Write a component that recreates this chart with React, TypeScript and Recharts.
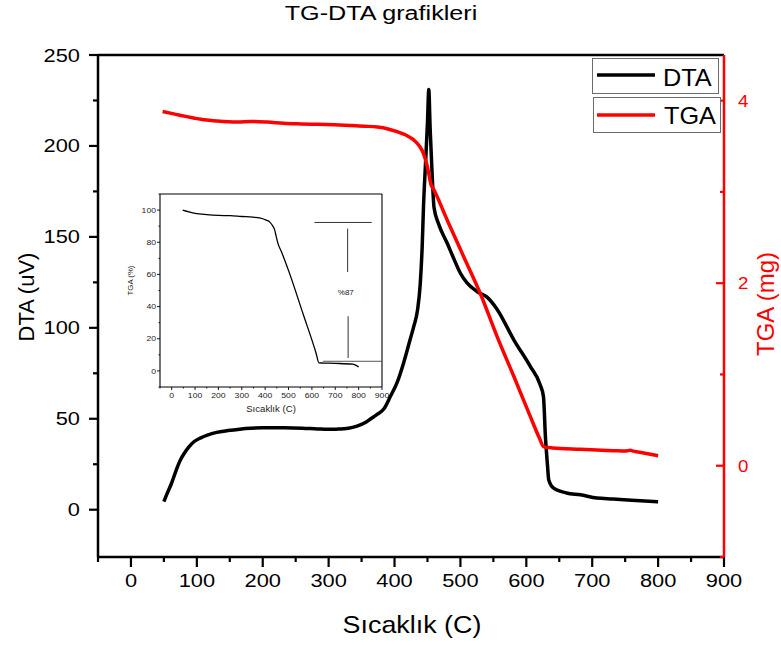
import { LineChart, Line, XAxis, YAxis, ReferenceLine, ReferenceDot, Label } from 'recharts'

// DTA curve (uV) against temperature (C)
const dtaTemps = [50, 55, 61, 66, 71, 76, 81, 88, 96, 106, 116, 130, 147, 165, 182, 200, 232, 260, 283, 300, 313, 330, 343, 355, 364, 374, 384, 394, 404, 414, 424, 429, 435, 439, 442, 444, 447, 450, 452, 454, 457, 460, 467, 480, 490, 500, 510, 525, 540, 556, 581, 606, 621, 626, 629, 632, 634, 641, 661, 682, 707, 732, 760, 800]
const dtaValues = [4.5, 9, 14, 19, 24, 28, 31, 34.5, 37.5, 39.5, 41, 42.5, 43.5, 44.3, 44.8, 45, 45, 44.8, 44.4, 44.2, 44.3, 44.8, 46, 47.8, 50, 52.5, 55.5, 62.5, 70, 81, 94, 100.5, 110, 124, 145, 167, 190, 213, 231, 210, 185, 166, 157, 146.5, 138, 130, 124.7, 120, 117, 110, 93.4, 78.8, 68.7, 62.3, 40, 25, 16.5, 12, 9.2, 8.2, 6.4, 5.9, 5.2, 4.3]

// TGA curve (mg)
const tgaTemps = [48, 65, 81, 95, 106, 131, 162, 182, 207, 232, 258, 283, 308, 333, 355, 374, 390, 404, 418, 429, 438, 444, 449, 452, 455, 460, 480, 505, 530, 556, 581, 606, 620, 626, 640, 682, 732, 750, 758, 762, 770, 800]
const tgaValues = [3.88, 3.855, 3.83, 3.81, 3.795, 3.776, 3.765, 3.772, 3.765, 3.752, 3.745, 3.74, 3.735, 3.728, 3.72, 3.71, 3.69, 3.66, 3.62, 3.57, 3.5, 3.42, 3.3, 3.2, 3.09, 3.02, 2.69, 2.29, 1.89, 1.41, 0.98, 0.54, 0.3, 0.21, 0.195, 0.18, 0.165, 0.16, 0.17, 0.16, 0.15, 0.11]

// inset: TGA in percent
const insetTemps = [47, 100, 150, 200, 250, 300, 347, 380, 404, 420, 433, 440, 447, 454, 470, 504, 561, 618, 630, 650, 700, 775, 800]
const insetPercent = [100, 98, 97.2, 96.7, 96.5, 96, 95.6, 95, 93.8, 92.5, 90, 88, 83.8, 79.6, 74, 60.8, 36, 11, 5, 4.9, 4.7, 4.2, 2.5]

const mainXTicks = [-50, 0, 50, 100, 150, 200, 250, 300, 350, 400, 450, 500, 550, 600, 650, 700, 750, 800, 850, 900]
const dtaTicks = [0, 25, 50, 75, 100, 125, 150, 175, 200, 225, 250]
const tgaTicks = [-1, 0, 1, 2, 3, 4]
const insetXTicks = mainXTicks
const insetYTicks = [-10, 0, 10, 20, 30, 40, 50, 60, 70, 80, 90, 100, 110]

// mass loss bracket in the inset (data units)
const lossTop = 92.3
const lossBottom = 6
const lossLabel = '%87'

const dtaData = dtaTemps.map((t, i) => ({ t, dta: dtaValues[i] }))
const tgaData = tgaTemps.map((t, i) => ({ t, tga: tgaValues[i] }))
const insetData = insetTemps.map((t, i) => ({ t, pct: insetPercent[i] }))

const FONT = '"Liberation Sans", Arial, sans-serif'
const RED = '#ff0000'

// eslint-disable-next-line @typescript-eslint/no-explicit-any
function LeftTick(props: any) {
  const { x, y, payload } = props
  const major = payload.value % 50 === 0
  return (
    <g>
      <line x1={x + (major ? 9 : 13)} x2={x + 18} y1={y} y2={y} stroke="#000" strokeWidth={2.2} />
      {major && (
        <text transform={`translate(${x},${y}) scale(1.18,1)`} textAnchor="end" dy={6.5} fontSize={18.5} fontFamily={FONT} fill="#000">
          {payload.value}
        </text>
      )}
    </g>
  )
}

// eslint-disable-next-line @typescript-eslint/no-explicit-any
function BottomTick(props: any) {
  const { x, y, payload } = props
  const major = payload.value % 100 === 0
  return (
    <g>
      <line x1={x} x2={x} y1={y - 18} y2={y - (major ? 8 : 13)} stroke="#000" strokeWidth={2.2} />
      {major && (
        <text transform={`translate(${x},${y}) scale(1.18,1)`} textAnchor="middle" dy={12} fontSize={18.5} fontFamily={FONT} fill="#000">
          {payload.value}
        </text>
      )}
    </g>
  )
}

// eslint-disable-next-line @typescript-eslint/no-explicit-any
function RightTick(props: any) {
  const { x, y, payload } = props
  const major = payload.value % 2 === 0
  return (
    <g>
      <line x1={x - 14 - (major ? 8 : 4)} x2={x - 14} y1={y} y2={y} stroke={RED} strokeWidth={2.2} />
      {major && (
        <text transform={`translate(${x},${y}) scale(1.1,1)`} textAnchor="start" dy={6} fontSize={17} fontFamily={FONT} fill={RED}>
          {payload.value}
        </text>
      )}
    </g>
  )
}

// eslint-disable-next-line @typescript-eslint/no-explicit-any
function InsetLeftTick(props: any) {
  const { x, y, payload } = props
  const major = payload.value % 20 === 0 && payload.value >= 0 && payload.value <= 100
  return (
    <g>
      <line x1={x + (major ? 1 : 2.5)} x2={x + 4} y1={y} y2={y} stroke="#000" strokeWidth={0.9} />
      {major && (
        <text transform={`translate(${x},${y}) scale(1.2,1)`} textAnchor="end" dy={2.6} fontSize={7.2} fontFamily={FONT} fill="#222">
          {payload.value}
        </text>
      )}
    </g>
  )
}

// eslint-disable-next-line @typescript-eslint/no-explicit-any
function InsetBottomTick(props: any) {
  const { x, y, payload } = props
  const major = payload.value % 100 === 0
  return (
    <g>
      <line x1={x} x2={x} y1={y - 5} y2={y - (major ? 2 : 3.5)} stroke="#000" strokeWidth={0.9} />
      {major && (
        <text transform={`translate(${x},${y}) scale(1.2,1)`} textAnchor="middle" dy={5.5} fontSize={7.2} fontFamily={FONT} fill="#222">
          {payload.value}
        </text>
      )}
    </g>
  )
}

function InsetChart() {
  return (
    <LineChart width={290} height={245} margin={{ top: 9, right: 18, bottom: 0, left: 0 }}>
      <XAxis
        dataKey="t"
        type="number"
        domain={[-50, 900]}
        ticks={insetXTicks}
        interval={0}
        height={43}
        tickSize={3}
        tickMargin={2}
        tickLine={false}
        tick={<InsetBottomTick />}
        axisLine={{ stroke: '#000', strokeWidth: 1.1 }}
        allowDataOverflow
      >
        <Label
          content={({ viewBox }: any) => (
            <text
              transform={`translate(${viewBox.x + viewBox.width / 2},${viewBox.y + 25}) scale(1.12,1)`}
              textAnchor="middle"
              fontSize={8.6}
              fontFamily={FONT}
              fill="#222"
            >
              Sıcaklık (C)
            </text>
          )}
        />
      </XAxis>
      <YAxis
        domain={[-10, 110]}
        ticks={insetYTicks}
        interval={0}
        width={50}
        tickSize={3}
        tickMargin={1}
        tickLine={false}
        tick={<InsetLeftTick />}
        axisLine={{ stroke: '#000', strokeWidth: 1.1 }}
        allowDataOverflow
      >
        <Label
          content={({ viewBox }: any) => (
            <text
              transform={`translate(${viewBox.x + 23},${viewBox.y + viewBox.height / 2 - 10}) rotate(-90)`}
              textAnchor="middle"
              fontSize={7.8}
              fontFamily={FONT}
              fill="#222"
            >
              TGA (%)
            </text>
          )}
        />
      </YAxis>
      <ReferenceLine y={110} stroke="#000" strokeWidth={1.1} />
      <ReferenceLine x={900} stroke="#000" strokeWidth={1.1} />
      <ReferenceLine segment={[{ x: 611, y: lossTop }, { x: 856, y: lossTop }]} stroke="#333" strokeWidth={1} />
      <ReferenceLine segment={[{ x: 753, y: 88.5 }, { x: 753, y: 61.5 }]} stroke="#333" strokeWidth={1} />
      <ReferenceLine segment={[{ x: 755, y: 34 }, { x: 755, y: 8 }]} stroke="#333" strokeWidth={1} />
      <ReferenceLine segment={[{ x: 647, y: lossBottom }, { x: 900, y: lossBottom }]} stroke="#555" strokeWidth={1} />
      <ReferenceDot
        x={745}
        y={49}
        r={0}
        label={{ value: lossLabel, position: 'center', fontSize: 8, fontFamily: FONT, fill: '#222' }}
      />
      <Line
        data={insetData}
        dataKey="pct"
        type="monotone"
        stroke="#000"
        strokeWidth={1.3}
        dot={false}
        activeDot={false}
        isAnimationActive={false}
      />
    </LineChart>
  )
}

function MainChart() {
  return (
    <LineChart width={781} height={645} margin={{ top: 55, right: 0, bottom: 0, left: 0 }}>
      <XAxis
        dataKey="t"
        type="number"
        domain={[-50, 900]}
        ticks={mainXTicks}
        interval={0}
        height={88}
        tickSize={10}
        tickMargin={8}
        tickLine={false}
        tick={<BottomTick />}
        axisLine={{ stroke: '#000', strokeWidth: 2.5 }}
        allowDataOverflow
      >
        <Label
          content={({ viewBox }: any) => (
            <text
              transform={`translate(${viewBox.x + viewBox.width / 2 + 1},${viewBox.y + 76}) scale(1.12,1)`}
              textAnchor="middle"
              fontSize={24}
              fontFamily={FONT}
              fill="#000"
            >
              Sıcaklık (C)
            </text>
          )}
        />
      </XAxis>
      <YAxis
        yAxisId="left"
        domain={[-26, 250]}
        ticks={dtaTicks}
        interval={0}
        width={98}
        tickSize={9}
        tickMargin={9}
        tickLine={false}
        tick={<LeftTick />}
        axisLine={{ stroke: '#000', strokeWidth: 2.5 }}
        allowDataOverflow
      >
        <Label
          content={({ viewBox }: any) => (
            <text
              transform={`translate(${viewBox.x + 34},${viewBox.y + viewBox.height / 2 - 9}) rotate(-90)`}
              textAnchor="middle"
              fontSize={22}
              fontFamily={FONT}
              fill="#000"
            >
              DTA (uV)
            </text>
          )}
        />
      </YAxis>
      <YAxis
        yAxisId="right"
        orientation="right"
        domain={[-1, 4.5]}
        ticks={tgaTicks}
        interval={0}
        width={57}
        tickSize={0}
        tickMargin={14}
        tickLine={false}
        tick={<RightTick />}
        axisLine={{ stroke: RED, strokeWidth: 2.5 }}
        allowDataOverflow
      >
        <Label
          content={({ viewBox }: any) => (
            <text
              transform={`translate(${viewBox.x + 50},${viewBox.y + viewBox.height / 2 - 2}) rotate(-90)`}
              textAnchor="middle"
              fontSize={24}
              fontFamily={FONT}
              fill={RED}
            >
              TGA (mg)
            </text>
          )}
        />
      </YAxis>
      <ReferenceLine yAxisId="left" y={250} stroke="#000" strokeWidth={2.5} />
      <Line
        data={dtaData}
        dataKey="dta"
        yAxisId="left"
        type="monotone"
        stroke="#000"
        strokeWidth={3.5}
        dot={false}
        activeDot={false}
        isAnimationActive={false}
      />
      <Line
        data={tgaData}
        dataKey="tga"
        yAxisId="right"
        type="monotone"
        stroke={RED}
        strokeWidth={3.5}
        dot={false}
        activeDot={false}
        isAnimationActive={false}
      />
    </LineChart>
  )
}

export default function App() {
  return (
    <div style={{ position: 'absolute', left: 0, top: 0, width: 781, height: 645, background: '#fff', fontFamily: FONT }}>
      <div style={{ position: 'absolute', left: 110, top: 185 }}>
        <InsetChart />
      </div>
      <div style={{ position: 'absolute', left: 0, top: 0 }}>
        <MainChart />
      </div>
      <svg width={781} height={645} style={{ position: 'absolute', left: 0, top: 0, pointerEvents: 'none' }}>
        <text transform="translate(381,20) scale(1.2,1)" textAnchor="middle" fontSize={21} fontFamily={FONT} fill="#000">
          TG-DTA grafikleri
        </text>
        <rect x={592.5} y={58.5} width={126} height={35} fill="#fff" stroke="#6b6b6b" strokeWidth={1} />
        <line x1={597} x2={655} y1={75} y2={75} stroke="#000" strokeWidth={3.5} />
        <text transform="translate(663,86) scale(1.1,1)" fontSize={23} fontFamily={FONT} fill="#000">
          DTA
        </text>
        <rect x={593.5} y={97.5} width={127} height={35} fill="#fff" stroke="#6b6b6b" strokeWidth={1} />
        <line x1={597} x2={655} y1={115} y2={115} stroke={RED} strokeWidth={3.5} />
        <text transform="translate(664,124) scale(1.1,1)" fontSize={23} fontFamily={FONT} fill="#000">
          TGA
        </text>
      </svg>
    </div>
  )
}
